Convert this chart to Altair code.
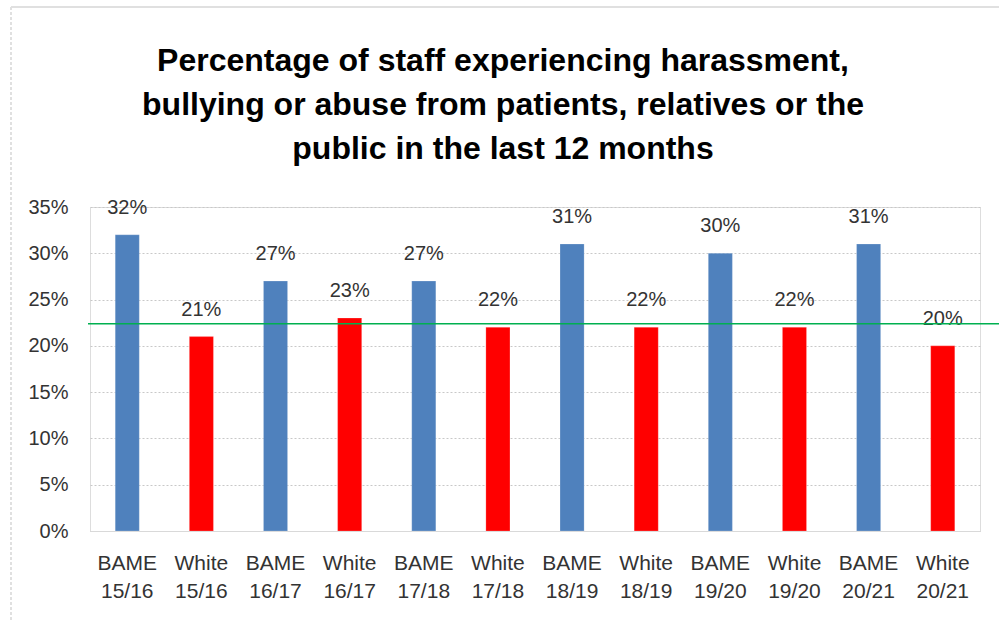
import altair as alt
import pandas as pd

groups = ["BAME", "White", "BAME", "White", "BAME", "White",
          "BAME", "White", "BAME", "White", "BAME", "White"]
years = ["15/16", "15/16", "16/17", "16/17", "17/18", "17/18",
         "18/19", "18/19", "19/20", "19/20", "20/21", "20/21"]
values = [0.32, 0.21, 0.27, 0.23, 0.27, 0.22, 0.31, 0.22, 0.30, 0.22, 0.31, 0.20]
reference_line = 0.224
title_lines = ["Percentage of staff experiencing harassment,",
               "bullying or abuse from patients, relatives or the",
               "public in the last 12 months"]

df = pd.DataFrame({
    "cat": [f"{g} {y}" for g, y in zip(groups, years)],
    "group": groups,
    "value": values,
})
order = list(df["cat"])

FONT = "Liberation Sans"
W, H = 890, 324

x_enc = alt.X("cat:N", sort=order, title=None,
              scale=alt.Scale(paddingInner=0.675, paddingOuter=0.34),
              axis=alt.Axis(labelExpr="split(datum.label, ' ')", labelAngle=0,
                            labelFontSize=21, labelLineHeight=28, labelPadding=21,
                            labelColor="#333333", labelFont=FONT,
                            domain=True, domainColor="#d9d9d9", ticks=False))
y_enc = alt.Y("value:Q", title=None,
              scale=alt.Scale(domain=[0, 0.35], nice=False),
              axis=alt.Axis(values=[0, 0.05, 0.10, 0.15, 0.20, 0.25, 0.30, 0.35],
                            format=".0%", labelFontSize=20, labelColor="#333333",
                            labelFont=FONT, labelPadding=22, domain=False, ticks=False,
                            grid=True, gridColor="#c8c8c8", gridDash=[2, 2]))

bars = alt.Chart(df).mark_bar(stroke="#ffffff", strokeOpacity=0.4, strokeWidth=0.5).encode(
    x=x_enc, y=y_enc,
    color=alt.Color("group:N", scale=alt.Scale(domain=["BAME", "White"],
                                               range=["#4F81BD", "#FF0000"]), legend=None),
)

labels = alt.Chart(df).mark_text(baseline="middle", dy=-27, fontSize=20,
                                 font=FONT, color="#333333").encode(
    x=alt.X("cat:N", sort=order),
    y="value:Q",
    text=alt.Text("value:Q", format=".0%"),
)

green = alt.Chart(pd.DataFrame({"v": [reference_line]})).mark_rule(
    color="#00B050", strokeWidth=1.5).encode(
    y="v:Q", x=alt.value(-2), x2=alt.value(911))

frame_top = alt.Chart(pd.DataFrame({"v": [0]})).mark_rule(
    color="#e0e0e0", strokeWidth=2).encode(
    x=alt.value(-79), x2=alt.value(912), y=alt.value(-200))
frame_left = alt.Chart(pd.DataFrame({"v": [0]})).mark_rule(
    color="#e0e0e0", strokeWidth=2, strokeDash=[3, 2]).encode(
    x=alt.value(-79), y=alt.value(-200), y2=alt.value(420))

chart = alt.layer(frame_top, frame_left, bars, labels, green).properties(
    width=W, height=H,
    title=alt.TitleParams(title_lines, anchor="middle", fontSize=32, font=FONT,
                          fontWeight="bold", color="#000000", lineHeight=44,
                          offset=42, dx=-32, dy=202),
    autosize=alt.AutoSizeParams(type="none"),
    padding={"left": 90, "top": 207, "right": 19, "bottom": 91},
).configure_view(stroke=None).configure(background="#ffffff")

chart.save("out.html", embed_options={"renderer": "svg", "actions": False})
